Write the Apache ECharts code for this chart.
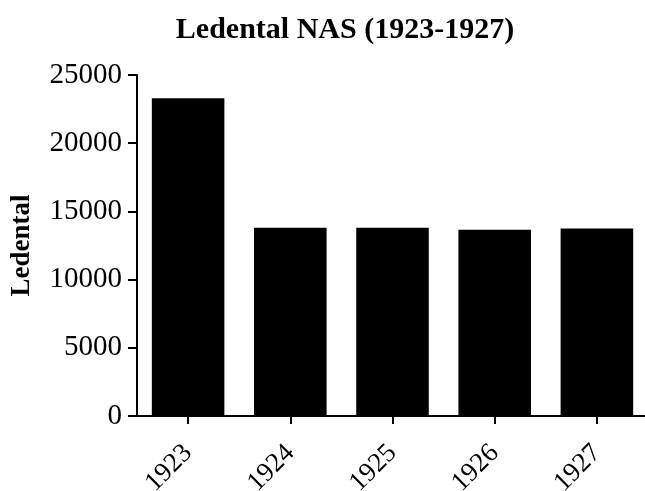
<!DOCTYPE html>
<html>
<head>
<meta charset="utf-8">
<script src="https://cdn.jsdelivr.net/npm/echarts@6/dist/echarts.min.js"></script>
<style>
  html, body { margin: 0; padding: 0; background: #fff; }
  #chart { width: 645px; height: 491px; }
</style>
</head>
<body>
<div id="chart"></div>
<script>
const years = ['1923', '1924', '1925', '1926', '1927'];
const ledental = [23300, 13800, 13800, 13650, 13750];
const yTicks = [0, 5000, 10000, 15000, 20000, 25000];

const serif = '"Liberation Serif", "DejaVu Serif", serif';

const chart = echarts.init(document.getElementById('chart'));

const option = {
    backgroundColor: '#ffffff',
    animation: false,
    title: {
        text: 'Ledental NAS (1923-1927)',
        left: 340,
        top: 10,
        textAlign: 'center',
        textStyle: {
            fontFamily: serif,
            fontWeight: 'bold',
            fontSize: 30,
            color: '#000'
        }
    },
    grid: {
        left: 137,
        top: 75,
        width: 511,
        height: 341,
        containLabel: false,
        outerBoundsMode: 'none'
    },
    xAxis: {
        type: 'category',
        data: years,
        axisLine: { show: true, lineStyle: { color: '#000', width: 2 } },
        axisTick: { show: true, alignWithLabel: true, length: 8, lineStyle: { color: '#000', width: 2 } },
        axisLabel: {
            rotate: 45,
            margin: 33,
            fontFamily: serif,
            fontSize: 27,
            color: '#000'
        },
        splitLine: { show: false }
    },
    yAxis: {
        type: 'value',
        min: yTicks[0],
        max: yTicks[yTicks.length - 1],
        interval: 5000,
        name: 'Ledental',
        nameLocation: 'middle',
        nameGap: 101,
        nameRotate: 90,
        nameTextStyle: {
            fontFamily: serif,
            fontWeight: 'bold',
            fontSize: 27,
            color: '#000'
        },
        axisLine: { show: true, lineStyle: { color: '#000', width: 2 } },
        axisTick: { show: true, length: 9, lineStyle: { color: '#000', width: 2 } },
        axisLabel: {
            margin: 15,
            fontFamily: serif,
            fontSize: 29,
            color: '#000',
            formatter: v => String(v)
        },
        splitLine: { show: false }
    },
    series: [{
        type: 'bar',
        data: ledental,
        barWidth: '71%',
        itemStyle: { color: '#000' }
    }]
};

chart.setOption(option);
</script>
</body>
</html>
